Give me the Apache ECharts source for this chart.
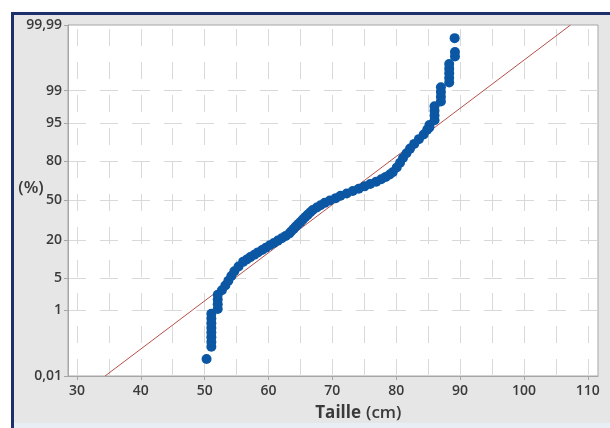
<!DOCTYPE html>
<html><head><meta charset="utf-8">
<script src="https://cdn.jsdelivr.net/npm/echarts@6/dist/echarts.min.js"></script>
<style>html,body{margin:0;padding:0;background:#fff}#c{width:610px;height:428px}</style>
</head><body><div id="c"></div><script>
// ---- data ----
const heights = [50.3,
  51.05,51.05,51.05,51.05,51.05,51.05,51.05,51.05,
  52.05,52.05,52.05,52.05,
  52.7,53.24,53.71,54.18,54.65,55.31,56.02,56.6,57.15,57.78,58.33,59.0,59.58,60.2,60.83,61.46,62.08,62.7,63.26,63.57,63.96,64.27,64.66,65.05,65.4,65.76,66.15,66.54,66.93,67.56,68.15,68.81,69.6,70.53,71.28,72.25,73.2,74.13,75.04,75.93,76.87,77.65,78.36,78.98,79.45,80.08,80.6,81.06,81.61,82.17,82.82,83.55,84.3,84.85,
  85.2,85.2,
  86.0,86.0,86.0,86.0,
  87.0,87.0,87.0,87.0,
  88.3,88.3,88.3,88.3,88.3,
  89.2,89.2,89.15];
const percents = [0.039,
  0.097,0.135,0.187,0.256,0.347,0.466,0.621,0.82,
  1.07,1.39,1.79,2.28,
  2.87,3.59,4.46,5.48,6.68,8.08,9.68,10.56,11.51,12.51,13.57,14.69,15.87,17.11,18.41,19.77,21.19,22.66,24.2,25.78,27.43,29.12,30.85,32.64,34.46,36.32,38.21,40.13,42.07,44.04,46.02,48.01,50,51.99,53.98,55.96,57.93,59.87,61.79,63.68,65.54,67.36,69.15,70.88,72.57,75.8,78.81,81.59,84.13,86.43,88.49,90.32,91.92,93.32,
  93.94,94.52,
  95.54,96.41,97.13,97.72,
  98.21,98.61,98.93,99.18,
  99.38,99.53,99.65,99.74,99.81,
  99.886,99.918,99.971];
const fitLineX = [34.4, 107.3];
const fitLineP = [0.01, 99.99];
const yTickPercents = [0.01, 1, 5, 20, 50, 80, 95, 99, 99.99];
const yTickLabels = ['0,01','1','5','20','50','80','95','99','99,99'];
const yGridPercents = [1, 5, 20, 50, 80, 95, 99];
const xTickValues = [30, 40, 50, 60, 70, 80, 90, 100, 110];
const xGridValues = [30, 35, 40, 45, 50, 55, 60, 65, 70, 75, 80, 85, 90, 95, 100, 105, 110];

// ---- normal probability scale (percent -> z) ----
function probit(p){
  const a=[-3.969683028665376e+01,2.209460984245205e+02,-2.759285104469687e+02,1.383577518672690e+02,-3.066479806614716e+01,2.506628277459239e+00];
  const b=[-5.447609879822406e+01,1.615858368580409e+02,-1.556989798598866e+02,6.680131188771972e+01,-1.328068155288572e+01];
  const c=[-7.784894002430293e-03,-3.223964580411365e-01,-2.400758277161838e+00,-2.549732539343734e+00,4.374664141464968e+00,2.938163982698783e+00];
  const d=[7.784695709041462e-03,3.224671290700398e-01,2.445134137142996e+00,3.754408661907416e+00];
  const pl=0.02425, ph=1-pl; let q,r;
  if(p<pl){q=Math.sqrt(-2*Math.log(p));return (((((c[0]*q+c[1])*q+c[2])*q+c[3])*q+c[4])*q+c[5])/((((d[0]*q+d[1])*q+d[2])*q+d[3])*q+1);}
  if(p<=ph){q=p-0.5;r=q*q;return (((((a[0]*r+a[1])*r+a[2])*r+a[3])*r+a[4])*r+a[5])*q/(((((b[0]*r+b[1])*r+b[2])*r+b[3])*r+b[4])*r+1);}
  q=Math.sqrt(-2*Math.log(1-p));return -(((((c[0]*q+c[1])*q+c[2])*q+c[3])*q+c[4])*q+c[5])/((((d[0]*q+d[1])*q+d[2])*q+d[3])*q+1);
}
const zOf = pc => probit(pc/100);
const zTicks = yTickPercents.map(zOf);
const zMin = zTicks[0], zMax = zTicks[zTicks.length-1];

const points = heights.map((h,i)=>[h, zOf(percents[i])]);
const fitData = fitLineX.map((x,i)=>[x, zOf(fitLineP[i])]);

const gridColor = '#d9d9d9';
const labelFont = {color:'#3a3a3a', fontFamily:'Open Sans', fontWeight:600, fontSize:14};

const markData = [];
xGridValues.forEach(v=>markData.push({xAxis:v, lineStyle:{color:gridColor,width:1,type:[17,16],dashOffset:0}}));
yGridPercents.forEach(p=>markData.push({yAxis:zOf(p), lineStyle:{color:gridColor,width:1,type:[18,14],dashOffset:0}}));

const chart = echarts.init(document.getElementById('c'), null, {renderer:'canvas'});
chart.setOption({
  animation:false,
  backgroundColor:'#e6e6e6',
  graphic:[
    {type:'rect', shape:{x:0,y:0,width:610,height:12}, style:{fill:'#fff'}, silent:true},
    {type:'rect', shape:{x:0,y:0,width:11,height:428}, style:{fill:'#fff'}, silent:true},
    {type:'rect', shape:{x:11,y:12,width:599,height:3}, style:{fill:'#1d2f6b'}, silent:true},
    {type:'rect', shape:{x:11,y:12,width:3,height:416}, style:{fill:'#1d2f6b'}, silent:true},
    {type:'rect', shape:{x:14,y:423,width:596,height:5}, style:{fill:'#e9eef5'}, silent:true},
    {type:'text', x:31, y:188, silent:true, style:{text:'(%)', fill:'#3a3a3a', fontFamily:'Open Sans', fontWeight:600, fontSize:17, align:'center', verticalAlign:'middle'}},
    {type:'text', x:361, y:413, silent:true, style:{text:'Taille', fill:'#3a3a3a', fontFamily:'Open Sans', fontWeight:'bold', fontSize:17, align:'right', verticalAlign:'middle'}},
    {type:'text', x:366, y:413, silent:true, style:{text:'(cm)', fill:'#3a3a3a', fontFamily:'Open Sans', fontWeight:600, fontSize:17, align:'left', verticalAlign:'middle'}}
  ],
  grid:{left:68, right:12, top:25, bottom:52, show:true, backgroundColor:'#fff', borderColor:'#a6a6a6', borderWidth:1},
  xAxis:{type:'value', min:28.6, max:111.6,
    axisLine:{show:true, onZero:false, lineStyle:{color:'#a6a6a6'}},
    axisTick:{show:true, customValues:xTickValues, length:4, lineStyle:{color:'#a6a6a6'}},
    axisLabel:Object.assign({customValues:xTickValues, margin:8}, labelFont),
    splitLine:{show:false}},
  yAxis:{type:'value', min:zMin, max:zMax,
    axisLine:{show:true, onZero:false, lineStyle:{color:'#a6a6a6'}},
    axisTick:{show:true, customValues:zTicks, length:4, lineStyle:{color:'#a6a6a6'}},
    axisLabel:Object.assign({customValues:zTicks, margin:6, showMinLabel:true, showMaxLabel:true,
      formatter:function(v){let best=0,bd=1e9;zTicks.forEach((z,i)=>{const dd=Math.abs(z-v);if(dd<bd){bd=dd;best=i;}});return yTickLabels[best];}}, labelFont),
    splitLine:{show:false}},
  series:[
    {type:'line', data:[], silent:true, z:0,
      markLine:{silent:true, z:0, symbol:'none', label:{show:false}, emphasis:{disabled:true}, animation:false, data:markData}},
    {type:'line', data:fitData, symbol:'none', silent:true, z:2,
      lineStyle:{color:'#b5504a', width:1}},
    {type:'scatter', data:points, symbol:'circle', symbolSize:10, silent:true, z:3,
      itemStyle:{color:'#0b57a4', opacity:1}}
  ]
});
</script></body></html>
